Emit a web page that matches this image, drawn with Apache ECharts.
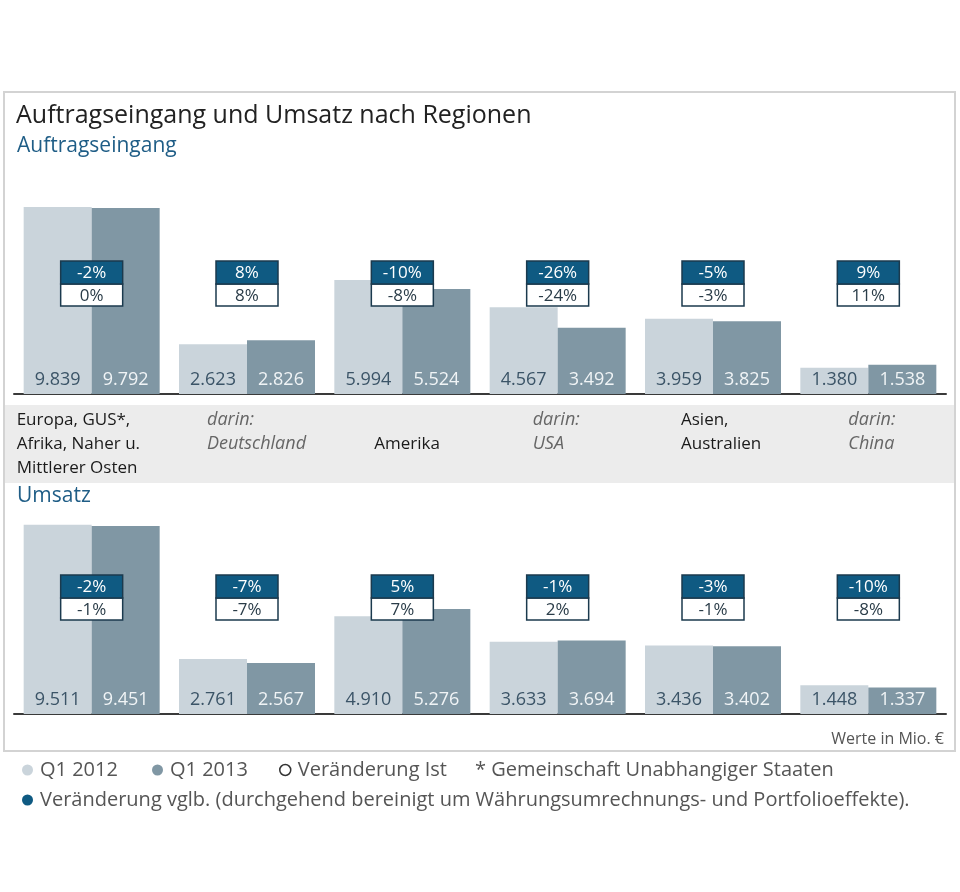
<!DOCTYPE html>
<html><head><meta charset="utf-8">
<script src="https://cdn.jsdelivr.net/npm/echarts@6/dist/echarts.min.js"></script>
<style>html,body{margin:0;padding:0;background:#fff}#c{width:960px;height:892px}</style>
</head><body><div id="c"></div>
<script>
// ---- data ----
const categories = ['Europa, GUS*,\nAfrika, Naher u.\nMittlerer Osten', 'darin:\nDeutschland', 'Amerika', 'darin:\nUSA', 'Asien,\nAustralien', 'darin:\nChina'];
const isSubRegion = [false, true, false, true, false, true];
const orderQ12012 = [9839, 2623, 5994, 4567, 3959, 1380];
const orderQ12013 = [9792, 2826, 5524, 3492, 3825, 1538];
const orderChangeVgl = [-2, 8, -10, -26, -5, 9];
const orderChangeIst = [0, 8, -8, -24, -3, 11];
const salesQ12012 = [9511, 2761, 4910, 3633, 3436, 1448];
const salesQ12013 = [9451, 2567, 5276, 3694, 3402, 1337];
const salesChangeVgl = [-2, -7, 5, -1, -3, -10];
const salesChangeIst = [-1, -7, 7, 2, -1, -8];

const NAME_A = 'Q1 2012', NAME_B = 'Q1 2013', NAME_IST = 'Veränderung Ist';
const NAME_VGL = 'Veränderung vglb. (durchgehend bereinigt um Währungsumrechnungs- und Portfolioeffekte).';

// ---- style ----
const FONT = '"Open Sans", "DejaVu Sans", sans-serif';
const C_LIGHT = '#cad4db', C_DARK = '#8097a4', C_BLUE = '#0f5a82', C_NAVY = '#1b3a4e';
const GRIDS = [{top: 204, height: 190, boxOff: 57}, {top: 515, height: 199, boxOff: 60}];

function fmt(v) { const s = String(v); return s.length > 3 ? s.slice(0, s.length - 3) + '.' + s.slice(-3) : s; }

function barSeries(name, idx, data, color, labelColor) {
  return {
    type: 'bar', name, xAxisIndex: idx, yAxisIndex: idx, data,
    barWidth: 68, barGap: '0%',
    itemStyle: {color},
    label: {show: true, position: 'insideBottom', distance: 5, color: labelColor,
      fontFamily: FONT, fontSize: 18, formatter: p => fmt(p.value)}
  };
}
function boxSeries(name, idx, data, kind) {
  return {
    type: 'custom', name, xAxisIndex: idx, yAxisIndex: idx,
    data: data.map((v, i) => [i, v]), encode: {x: 0, y: 1}, z: kind === 'vgl' ? 5 : 4,
    itemStyle: {color: kind === 'vgl' ? C_BLUE : '#fff'},
    renderItem(params, api) {
      const cx = api.coord([api.value(0), 0])[0];
      const top = params.coordSys.y + GRIDS[idx].boxOff;
      const w = 62, h1 = 23, h2 = 22;
      const y0 = kind === 'vgl' ? top : top + h1;
      const h = kind === 'vgl' ? h1 : h2;
      return {type: 'group', children: [
        {type: 'rect', shape: {x: cx - w / 2, y: y0, width: w, height: h},
          style: {fill: kind === 'vgl' ? C_BLUE : '#fff', stroke: C_NAVY, lineWidth: 1.5}},
        {type: 'text', style: {text: api.value(1) + '%', x: cx, y: y0 + h / 2 + 1, align: 'center', verticalAlign: 'middle',
          fill: kind === 'vgl' ? '#fff' : '#2a3c48', fontSize: 17, fontFamily: FONT}}
      ]};
    }
  };
}

const chart = echarts.init(document.getElementById('c'), null, {renderer: 'canvas'});
const axisCommon = {type: 'category', data: categories, axisTick: {show: false}, axisLabel: {show: false},
  axisLine: {show: true, lineStyle: {color: '#3a3a3a', width: 2}}};
const legendCommon = {orient: 'horizontal', itemWidth: 11, itemHeight: 11, itemGap: 0, selectedMode: false,
  textStyle: {fontFamily: FONT, fontSize: 20, color: '#555', padding: [0, 0, 0, 2]}};

chart.setOption({
  animation: false,
  grid: GRIDS.map(g => ({left: 14, right: 14, top: g.top, height: g.height})),
  xAxis: [Object.assign({gridIndex: 0}, axisCommon), Object.assign({gridIndex: 1}, axisCommon)],
  yAxis: [0, 1].map(i => ({gridIndex: i, type: 'value', min: 0, max: 10000, show: false, splitLine: {show: false}})),
  legend: [
    Object.assign({left: 17, top: 755, data: [{name: NAME_A, icon: 'circle'}]}, legendCommon),
    Object.assign({left: 147, top: 755, data: [{name: NAME_B, icon: 'circle'}]}, legendCommon),
    Object.assign({left: 274, top: 755, data: [{name: NAME_IST, icon: 'circle', itemStyle: {color: '#fff', borderColor: '#333', borderWidth: 1.5}}]}, legendCommon),
    Object.assign({left: 17, top: 785, data: [{name: NAME_VGL, icon: 'circle', itemStyle: {color: C_BLUE}}]}, legendCommon)
  ],
  series: [
    barSeries(NAME_A, 0, orderQ12012, C_LIGHT, '#3b5467'),
    barSeries(NAME_B, 0, orderQ12013, C_DARK, '#f0f4f6'),
    boxSeries(NAME_IST, 0, orderChangeIst, 'ist'),
    boxSeries(NAME_VGL, 0, orderChangeVgl, 'vgl'),
    barSeries(NAME_A, 1, salesQ12012, C_LIGHT, '#3b5467'),
    barSeries(NAME_B, 1, salesQ12013, C_DARK, '#f0f4f6'),
    boxSeries(NAME_IST, 1, salesChangeIst, 'ist'),
    boxSeries(NAME_VGL, 1, salesChangeVgl, 'vgl')
  ]
});

// ---- frame, titles, category labels ----
const labelDx = [-75, -40, -28, -25, -32, -20];
const graphics = [
  {type: 'rect', z: -10, shape: {x: 4, y: 92, width: 951, height: 659}, style: {fill: 'none', stroke: '#d3d3d3', lineWidth: 2}},
  {type: 'rect', z: -10, shape: {x: 5, y: 405, width: 949, height: 78}, style: {fill: '#ececec'}},
  {type: 'text', style: {text: 'Auftragseingang und Umsatz nach Regionen', x: 16, y: 116, verticalAlign: 'middle', fontSize: 25, fontFamily: FONT, fill: '#222'}},
  {type: 'text', style: {text: 'Auftragseingang', x: 17, y: 146, verticalAlign: 'middle', fontSize: 21, fontFamily: FONT, fill: '#1f5d86'}},
  {type: 'text', style: {text: 'Umsatz', x: 17, y: 496, verticalAlign: 'middle', fontSize: 21, fontFamily: FONT, fill: '#1f5d86'}},
  {type: 'text', style: {text: 'Werte in Mio. €', x: 944, y: 739, align: 'right', verticalAlign: 'middle', fontSize: 16, fontFamily: FONT, fill: '#555'}},
  {type: 'text', style: {text: '* Gemeinschaft Unabhangiger Staaten', x: 475, y: 770, verticalAlign: 'middle', fontSize: 20, fontFamily: FONT, fill: '#555'}}
];
categories.forEach((c, i) => {
  const cx = chart.convertToPixel({xAxisIndex: 0}, i);
  const lines = c.split('\n');
  const y0 = lines.length === 1 ? 444 : 420;
  lines.forEach((ln, k) => {
    graphics.push({type: 'text', style: {text: ln, x: cx + labelDx[i], y: y0 + k * 24, verticalAlign: 'middle',
      fontSize: isSubRegion[i] ? 18 : 17, fontFamily: FONT, fontStyle: isSubRegion[i] ? 'italic' : 'normal', fill: isSubRegion[i] ? '#666' : '#1a1a1a'}});
  });
});
chart.setOption({graphic: graphics});
</script></body></html>
